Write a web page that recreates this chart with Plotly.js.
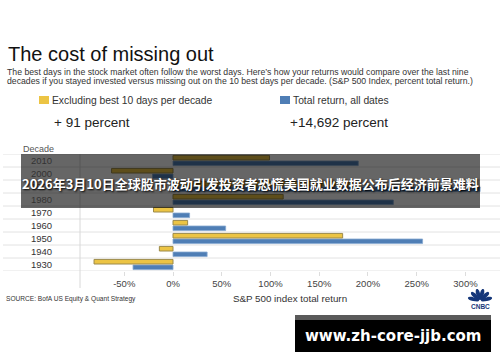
<!DOCTYPE html>
<html>
<head>
<meta charset="utf-8">
<script src="https://cdn.plot.ly/plotly-3.0.1.min.js"></script>
<style>html,body{margin:0;padding:0;background:#fff;}#chart{width:500px;height:362px;}</style>
</head>
<body>
<div id="chart"></div>
<script>
// ---- data ----
const decades = ['1930','1940','1950','1960','1970','1980','1990','2000','2010'];
const excludingBest10 = [-81, -14, 174, 15, -20, 113, 186, -63, 99];
const totalReturn = [-41, 35, 256, 54, 17, 226, 315, -21, 190];
const tickValues = [-50, 0, 50, 100, 150, 200, 250, 300];
const tickLabels = ['-50%', '0%', '50%', '100%', '150%', '200%', '250%', '300%'];
const seriesNames = ['Excluding best 10 days per decade', 'Total return, all dates'];
const summaryTexts = ['+ 91 percent', '+14,692 percent'];

// ---- pixel helpers ----
const L = 80, R = 500, T = 154, B = 271;
const px = x => (x - L) / (R - L);
const py = y => (B - y) / (B - T);

const FONT = 'Liberation Sans, Arial, sans-serif';
const GOLD = '#ecc444', GOLD_LINE = '#9c8a4a';
const BLUE = '#4f7eb5', BLUE_LINE = '#86a8d0';

const traces = [
  {
    type: 'bar', orientation: 'h', y: decades, x: totalReturn, name: seriesNames[1],
    marker: {color: BLUE, line: {color: BLUE_LINE, width: 0.8}}, hoverinfo: 'skip'
  },
  {
    type: 'bar', orientation: 'h', y: decades, x: excludingBest10, name: seriesNames[0],
    marker: {color: GOLD, line: {color: GOLD_LINE, width: 1}}, hoverinfo: 'skip'
  }
];

const shapes = [];
// category separator lines
for (let i = 0; i <= decades.length; i++) {
  shapes.push({type: 'line', xref: 'paper', yref: 'y', x0: px(3), x1: 1, y0: i - 0.5, y1: i - 0.5,
    line: {color: '#e2e2e2', width: 1}, layer: 'below'});
}
// vertical axis line
shapes.push({type: 'line', xref: 'paper', yref: 'paper', x0: 0, x1: 0, y0: 1, y1: py(288),
  line: {color: '#d8d8d8', width: 1}});
// legend swatches
shapes.push({type: 'rect', xref: 'paper', yref: 'paper', x0: px(39), x1: px(49), y0: py(96), y1: py(104),
  fillcolor: GOLD, line: {width: 0}});
shapes.push({type: 'rect', xref: 'paper', yref: 'paper', x0: px(280), x1: px(290), y0: py(96), y1: py(104),
  fillcolor: BLUE, line: {width: 0}});
// dark overlay banner
shapes.push({type: 'rect', xref: 'paper', yref: 'paper', x0: px(21), x1: px(480), y0: py(154), y1: py(208),
  fillcolor: 'rgba(0,0,0,0.6)', line: {width: 0}, layer: 'above'});
// watermark box
shapes.push({type: 'rect', xref: 'paper', yref: 'paper', x0: px(295), x1: px(491), y0: py(315), y1: py(320),
  fillcolor: '#5a5a5a', line: {width: 0}});
shapes.push({type: 'rect', xref: 'paper', yref: 'paper', x0: px(295), x1: px(491), y0: py(320), y1: py(352),
  fillcolor: '#000000', line: {width: 0}});
// CNBC peacock feathers
(function () {
  const cx = 480, cy = 301;
  const n = 6;
  for (let k = 0; k < n; k++) {
    const a = Math.PI * (1 - (k + 0.5) / n);
    const len = 11.5, w = 2.3;
    const ux = Math.cos(a), uy = -Math.sin(a);
    const vx = -uy, vy = ux;
    let d = '';
    const steps = 16;
    for (let s = 0; s <= steps; s++) {
      const t = Math.PI * 2 * s / steps;
      const along = len / 2 + (len / 2) * Math.cos(t) + 1;
      const across = w * Math.sin(t) * (0.6 + 0.4 * (along / len));
      const X = cx + ux * along + vx * across;
      const Y = cy + uy * along + vy * across;
      d += (s === 0 ? 'M' : 'L') + px(X).toFixed(4) + ',' + py(Y).toFixed(4);
    }
    d += 'Z';
    shapes.push({type: 'path', xref: 'paper', yref: 'paper', path: d, fillcolor: '#15377a', line: {width: 0}});
  }
})();

const annotations = [];
function txt(text, x, y, size, color, opts) {
  annotations.push(Object.assign({
    text: text, xref: 'paper', yref: 'paper', x: px(x), y: py(y), xanchor: 'left', yanchor: 'middle',
    showarrow: false, font: {family: FONT, size: size, color: color}
  }, opts || {}));
}
txt('The cost of missing out', 6, 54, 20, '#111');
txt('The best days in the stock market often follow the worst days. Here\u2019s how your returns would compare over the last nine', 5, 71.5, 8.7, '#333');
txt('decades if you stayed invested versus missing out on the 10 best days per decade. (S&amp;P 500 Index, percent total return.)', 5, 80.5, 8.7, '#333');
txt(seriesNames[0], 50, 100, 10.3, '#333');
txt(seriesNames[1], 291, 100, 10.3, '#333');
txt(summaryTexts[0], 52, 122, 13.5, '#222');
txt(summaryTexts[1], 288, 122, 13.5, '#222');
txt('Decade', 21, 148.5, 9, '#555');
decades.forEach((d, i) => {
  annotations.push({text: d, xref: 'paper', yref: 'y', x: px(41), y: i, xanchor: 'center', yanchor: 'middle',
    showarrow: false, font: {family: FONT, size: 9.5, color: '#333'}});
});
txt('SOURCE: BofA US Equity &amp; Quant Strategy', 4, 299, 6.6, '#333');
txt('CNBC', 480, 306.5, 6, '#15377a', {xanchor: 'center', font: {family: FONT, size: 6.5, color: '#15377a', weight: 'bold'}});
// banner text
annotations.push({text: '2026年3月10日全球股市波动引发投资者恐慌美国就业数据公布后经济前景难料',
  xref: 'paper', yref: 'paper', x: px(250), y: py(183), xanchor: 'center', yanchor: 'middle', showarrow: false,
  font: {family: 'Noto Sans CJK SC, sans-serif', size: 13, color: '#ffffff', weight: 'bold', shadow: '1px 1px 2px #000'}});
// watermark text
annotations.push({text: 'www.zh-core-jjb.com', xref: 'paper', yref: 'paper', x: px(393), y: py(336),
  xanchor: 'center', yanchor: 'middle', showarrow: false,
  font: {family: 'DejaVu Sans, sans-serif', size: 15, color: '#ffffff', weight: 'bold'}});

const layout = {
  width: 500, height: 362,
  margin: {l: L, r: 500 - R, t: T, b: 362 - B, pad: 0},
  paper_bgcolor: '#ffffff', plot_bgcolor: '#ffffff',
  showlegend: false,
  barmode: 'group', bargap: 0.14, bargroupgap: 0.18,
  xaxis: {
    range: [-95.4, 335.4], tickvals: tickValues, ticktext: tickLabels,
    showgrid: false, zeroline: false, showline: false,
    ticks: 'outside', ticklen: 4, tickcolor: '#dddddd',
    tickfont: {family: FONT, size: 9.5, color: '#444'},
    title: {text: 'S&amp;P 500 index total return', font: {family: FONT, size: 9.8, color: '#333'}, standoff: 6},
    fixedrange: true
  },
  yaxis: {
    type: 'category', categoryorder: 'array', categoryarray: decades,
    range: [-0.5, 8.5], showticklabels: false, showgrid: false, zeroline: false, showline: false,
    fixedrange: true
  },
  shapes: shapes,
  annotations: annotations
};

Plotly.newPlot('chart', traces, layout, {staticPlot: true, displayModeBar: false});
</script>
</body>
</html>
